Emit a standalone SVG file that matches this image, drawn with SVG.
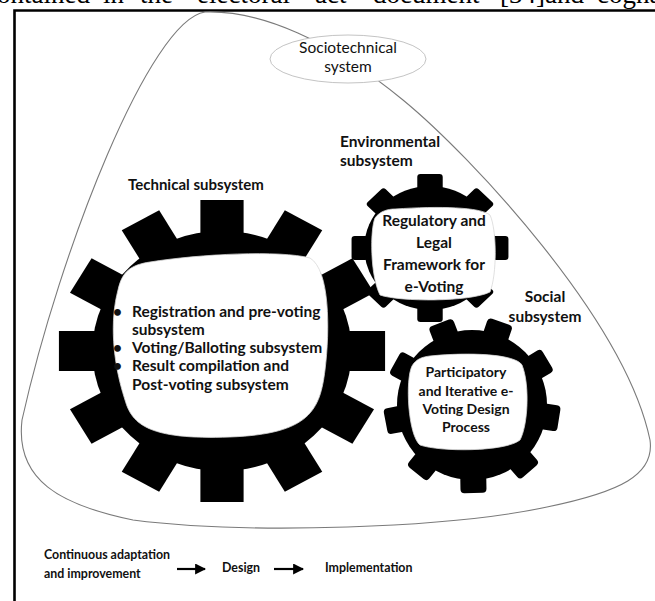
<svg xmlns="http://www.w3.org/2000/svg" width="655" height="601" viewBox="0 0 655 601">
<style>
  .lbl { font-family: Lato, "Open Sans", "Liberation Sans", sans-serif; font-weight: bold; fill: #111; }
  .reg { font-family: Lato, "Open Sans", "Liberation Sans", sans-serif; fill: #111; }
  .gear { fill: #000; }
  .hole { fill: #fff; stroke: #d8d8d8; stroke-width: 0.8; }
  .outline { fill: #fff; stroke: #7a7a7a; stroke-width: 1.1; }
  .arrow { stroke: #000; stroke-width: 2.2; fill: none; marker-end: url(#ah); }
</style>
<defs>
  <marker id="ah" viewBox="0 0 10 10" refX="9" refY="5" markerWidth="5" markerHeight="5" orient="auto" markerUnits="strokeWidth">
    <path d="M0,0 L10,5 L0,10 Z" fill="#000"/>
  </marker>
</defs>
<rect width="655" height="601" fill="#fff"/>
<!-- clipped running text from page -->
<g font-family="Liberation Serif, serif" font-size="27" fill="#000">
  <text x="-15" y="2.5">contained</text>
  <text x="103" y="2.5">in</text>
  <text x="140" y="2.5">the</text>
  <text x="197" y="2.5">electoral</text>
  <text x="315" y="2.5">act</text>
  <text x="373" y="2.5">document</text>
  <text x="500" y="2.5">[34]and</text>
  <text x="597" y="2.5">cognate</text>
</g>
<!-- frame -->
<path d="M14.5,601 V10.5 H655" fill="none" stroke="#000" stroke-width="2.6"/>

<g id="sociotechnical-boundary">
  <path class="outline" d="M205,12 C260,10 330,40 403,100 C470,155 625,320 650,440 C655,475 620,492 547,507 C450,528 250,535 133,520 C60,505 15,480 22,420 C60,250 150,20 205,12 Z"/>
</g>

<g id="sociotechnical-system">
  <ellipse cx="348" cy="59" rx="78" ry="24" fill="#fff" stroke="#c4c4c4" stroke-width="1"/>
  <text class="reg" x="348" y="53" font-size="15.5" text-anchor="middle">Sociotechnical</text>
  <text class="reg" x="348" y="72" font-size="15.5" text-anchor="middle">system</text>
</g>

<g id="technical-subsystem">
  <text class="lbl" x="128" y="190" font-size="15">Technical subsystem</text>
  <g transform="translate(222,351) scale(1.08,1)" class="gear">
    <circle r="120"/>
    <rect x="-20" y="-151" width="40" height="36" transform="rotate(0)"/>
    <rect x="-20" y="-151" width="40" height="36" transform="rotate(30)"/>
    <rect x="-20" y="-151" width="40" height="36" transform="rotate(60)"/>
    <rect x="-20" y="-151" width="40" height="36" transform="rotate(90)"/>
    <rect x="-20" y="-151" width="40" height="36" transform="rotate(120)"/>
    <rect x="-20" y="-151" width="40" height="36" transform="rotate(150)"/>
    <rect x="-20" y="-151" width="40" height="36" transform="rotate(180)"/>
    <rect x="-20" y="-151" width="40" height="36" transform="rotate(210)"/>
    <rect x="-20" y="-151" width="40" height="36" transform="rotate(240)"/>
    <rect x="-20" y="-151" width="40" height="36" transform="rotate(270)"/>
    <rect x="-20" y="-151" width="40" height="36" transform="rotate(300)"/>
    <rect x="-20" y="-151" width="40" height="36" transform="rotate(330)"/>
  </g>
  <path class="hole" d="M150,262 C200,254 280,250 310,258 C330,270 330,330 325,370 C320,410 310,434 230,437 C150,440 132,425 125,400 C112,360 110,320 118,290 C122,272 130,265 150,262 Z"/>
  <g class="lbl" font-size="15.5">
    <text x="113" y="317">•</text>
    <text x="132" y="317">Registration and pre-voting</text>
    <text x="132" y="335">subsystem</text>
    <text x="113" y="353">•</text>
    <text x="132" y="353">Voting/Balloting subsystem</text>
    <text x="113" y="371">•</text>
    <text x="132" y="371">Result compilation and</text>
    <text x="132" y="390">Post-voting subsystem</text>
  </g>
</g>

<g id="environmental-subsystem">
  <text class="lbl" x="340" y="147" font-size="15.5">Environmental</text>
  <text class="lbl" x="340" y="166" font-size="15.5">subsystem</text>
  <g transform="translate(430,248) scale(1.06,1)" class="gear">
    <circle r="62"/>
    <rect x="-12" y="-74" width="24" height="16" rx="3" transform="rotate(0)"/>
    <rect x="-12" y="-74" width="24" height="16" rx="3" transform="rotate(45)"/>
    <rect x="-12" y="-74" width="24" height="16" rx="3" transform="rotate(90)"/>
    <rect x="-12" y="-74" width="24" height="16" rx="3" transform="rotate(135)"/>
    <rect x="-12" y="-74" width="24" height="16" rx="3" transform="rotate(180)"/>
    <rect x="-12" y="-74" width="24" height="16" rx="3" transform="rotate(225)"/>
    <rect x="-12" y="-74" width="24" height="16" rx="3" transform="rotate(270)"/>
    <rect x="-12" y="-74" width="24" height="16" rx="3" transform="rotate(315)"/>
  </g>
  <path class="hole" d="M395,209 C440,206 480,207 490,215 C497,230 497,275 490,292 C470,302 400,302 380,295 C370,275 370,230 375,218 C380,211 388,209 395,209 Z"/>
  <g class="lbl" font-size="15.5" text-anchor="middle">
    <text x="434" y="226">Regulatory and</text>
    <text x="434" y="248">Legal</text>
    <text x="434" y="270">Framework for</text>
    <text x="434" y="292">e-Voting</text>
  </g>
</g>

<g id="social-subsystem">
  <text class="lbl" x="545" y="302" font-size="15.5" text-anchor="middle">Social</text>
  <text class="lbl" x="545" y="322" font-size="15.5" text-anchor="middle">subsystem</text>
  <g transform="translate(472,405)" class="gear">
    <circle r="75"/>
    <rect x="-13" y="-88" width="26" height="18" rx="4" transform="rotate(-21)"/>
    <rect x="-13" y="-88" width="26" height="18" rx="4" transform="rotate(19)"/>
    <rect x="-13" y="-88" width="26" height="18" rx="4" transform="rotate(59)"/>
    <rect x="-13" y="-88" width="26" height="18" rx="4" transform="rotate(99)"/>
    <rect x="-13" y="-88" width="26" height="18" rx="4" transform="rotate(139)"/>
    <rect x="-13" y="-88" width="26" height="18" rx="4" transform="rotate(179)"/>
    <rect x="-13" y="-88" width="26" height="18" rx="4" transform="rotate(219)"/>
    <rect x="-13" y="-88" width="26" height="18" rx="4" transform="rotate(259)"/>
    <rect x="-13" y="-88" width="26" height="18" rx="4" transform="rotate(299)"/>
  </g>
  <path class="hole" d="M430,356 C470,352 515,354 522,365 C530,385 528,425 520,440 C505,452 440,452 420,445 C408,435 405,380 412,366 C416,359 422,357 430,356 Z"/>
  <g class="lbl" font-size="14" text-anchor="middle">
    <text x="466" y="377">Participatory</text>
    <text x="466" y="396">and Iterative e-</text>
    <text x="466" y="414">Voting Design</text>
    <text x="466" y="432">Process</text>
  </g>
</g>

<g id="process-continuous">
  <text class="lbl" x="44" y="559" font-size="12.4">Continuous adaptation</text>
  <text class="lbl" x="44" y="578" font-size="12.4">and improvement</text>
</g>
<g id="process-design">
  <text class="lbl" x="222" y="572" font-size="12.4">Design</text>
</g>
<g id="process-implementation">
  <text class="lbl" x="325" y="572" font-size="12.4">Implementation</text>
</g>
<g id="connectors">
  <line class="arrow" x1="177" y1="569" x2="205" y2="569"/>
  <line class="arrow" x1="274" y1="569" x2="303" y2="569"/>
</g>
</svg>
